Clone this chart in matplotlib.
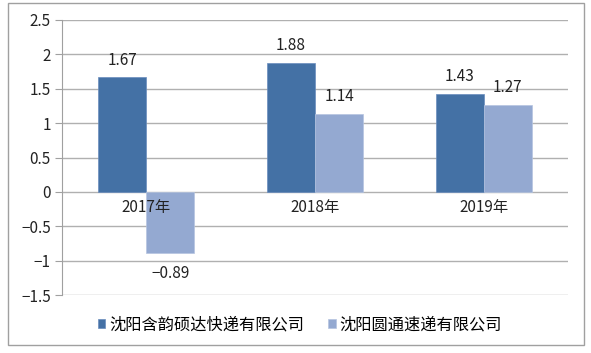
import numpy as np
import matplotlib.pyplot as plt
from matplotlib.patches import Rectangle

plt.rcParams['font.family'] = ['Noto Sans CJK SC', 'DejaVu Sans']
plt.rcParams['axes.unicode_minus'] = True

years = ['2017年', '2018年', '2019年']
series_names = ['沈阳含韵硕达快递有限公司', '沈阳圆通速递有限公司']
vals_a = [1.67, 1.88, 1.43]
vals_b = [-0.89, 1.14, 1.27]
yticks = [-1.5, -1, -0.5, 0, 0.5, 1, 1.5, 2, 2.5]
ytick_labels = ['−1.5', '−1', '−0.5', '0', '0.5', '1', '1.5', '2', '2.5']

c_a = '#4471a5'
c_b = '#94a9d1'

W, H = 591, 353
fig = plt.figure(figsize=(W / 100, H / 100), dpi=100)
ax = fig.add_axes([62 / W, 1 - 295 / H, (568 - 62) / W, (295 - 20) / H])

x = np.arange(len(years))
bw = 0.285
ax.bar(x - bw / 2, vals_a, bw, color=c_a, edgecolor='#6a8dbd', linewidth=0.5, zorder=3, label=series_names[0])
ax.bar(x + bw / 2, vals_b, bw, color=c_b, edgecolor='#b5c4e0', linewidth=0.5, zorder=3, label=series_names[1])

ax.set_xlim(-0.5, 2.5)
ax.set_ylim(-1.5, 2.5)
ax.set_yticks(yticks)
ax.set_yticklabels(ytick_labels, fontsize=11, color='#222222')
ax.set_xticks([])
ax.grid(axis='y', color='#b0b0b0', linewidth=1, zorder=0)
for s in ['top', 'right', 'bottom']:
    ax.spines[s].set_visible(False)
ax.spines['left'].set_color('#a0a0a0')
ax.tick_params(axis='y', length=5, color='#a0a0a0', pad=3)

for i, y in enumerate(years):
    ax.text(x[i], -0.1, y, ha='center', va='top', fontsize=11, color='#222222')

def put_labels(xs, vals):
    for xi, v in zip(xs, vals):
        if v >= 0:
            ax.text(xi, v + 0.12, f'{v:.2f}', ha='center', va='bottom', fontsize=11, color='#222222')
        else:
            ax.text(xi, v - 0.17, f'{v:.2f}'.replace('-', '−'), ha='center', va='top', fontsize=11, color='#222222')

put_labels(x - bw / 2, vals_a)
put_labels(x + bw / 2, vals_b)

leg = fig.legend(loc='center', bbox_to_anchor=(300 / W, 1 - 325 / H), ncol=2, frameon=False,
                 fontsize=11.7, handlelength=0.45, handleheight=0.45, handletextpad=0.25,
                 columnspacing=1.5)

fig.patches.append(Rectangle((8 / W, 1 - 345 / H), (584 - 8) / W, (345 - 3) / H,
                             transform=fig.transFigure, fill=False, edgecolor='#a0a0a0', linewidth=1))

fig.savefig('out.png', dpi=100)
